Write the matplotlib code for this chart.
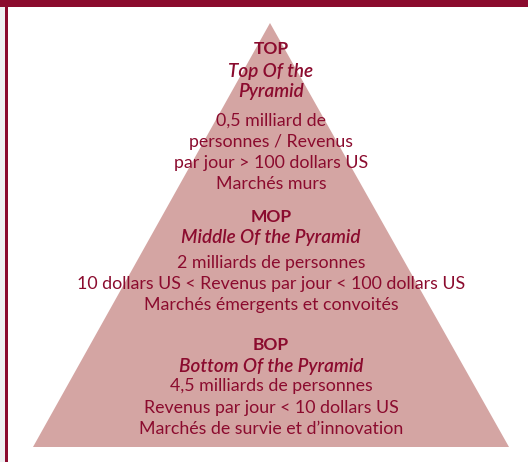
import matplotlib
matplotlib.use("Agg")
import matplotlib.pyplot as plt
from matplotlib.patches import Polygon, Rectangle

# pyramid tiers, top to bottom
TIER_CODES = ["TOP", "MOP", "BOP"]
TIER_NAMES = ["Top Of the\nPyramid", "Middle Of the Pyramid", "Bottom Of the Pyramid"]
TIER_DETAILS = [
    ["0,5 milliard de", "personnes / Revenus", "par jour > 100 dollars US", "Marchés murs"],
    ["2 milliards de personnes", "10 dollars US < Revenus par jour < 100 dollars US",
     "Marchés émergents et convoités"],
    ["4,5 milliards de personnes", "Revenus par jour < 10 dollars US",
     "Marchés de survie et d\u2019innovation"],
]
# vertical anchor of each tier header (pixels from top)
TIER_Y = [49, 217, 345]
NAME_GAP = [22, 20, 21.5]
DETAIL_GAP = [29, 26, 20]

MAROON = "#8b0b2e"
PINK = "#d4a5a3"
FONT = ["Lato", "DejaVu Sans"]
FS = 12.8
FS_HEAD = 12.5
FS_NAME = 13.6
LINE = 21

W, H = 528, 462
fig = plt.figure(figsize=(W / 100, H / 100), dpi=100)
ax = fig.add_axes([0, 0, 1, 1])
ax.set_xlim(0, W)
ax.set_ylim(H, 0)
ax.axis("off")

# frame: grey strip, left rule and top band
ax.add_patch(Rectangle((0, 0), 5, H, color="#eff0f2", lw=0))
ax.add_patch(Rectangle((5, 0), 2.5, H, color=MAROON, lw=0))
ax.add_patch(Rectangle((0, 0), W, 7, color=MAROON, lw=0))

ax.add_patch(Polygon([(270, 23), (509, 447), (33, 447)], closed=True, color=PINK, lw=0))

cx = 271
for i, code in enumerate(TIER_CODES):
    y = TIER_Y[i]
    ax.text(cx, y, code, ha="center", va="center", fontsize=FS_HEAD, color=MAROON,
            fontweight="bold", family=FONT)
    y += NAME_GAP[i]
    for line in TIER_NAMES[i].split("\n"):
        ax.text(cx, y, line, ha="center", va="center", fontsize=FS_NAME, color=MAROON,
                fontstyle="italic", fontweight="semibold", family=FONT)
        y += LINE
    y += DETAIL_GAP[i] - LINE
    for line in TIER_DETAILS[i]:
        ax.text(cx, y, line, ha="center", va="center", fontsize=FS, color=MAROON,
                family=FONT)
        y += LINE

fig.savefig("out.png", dpi=100)
